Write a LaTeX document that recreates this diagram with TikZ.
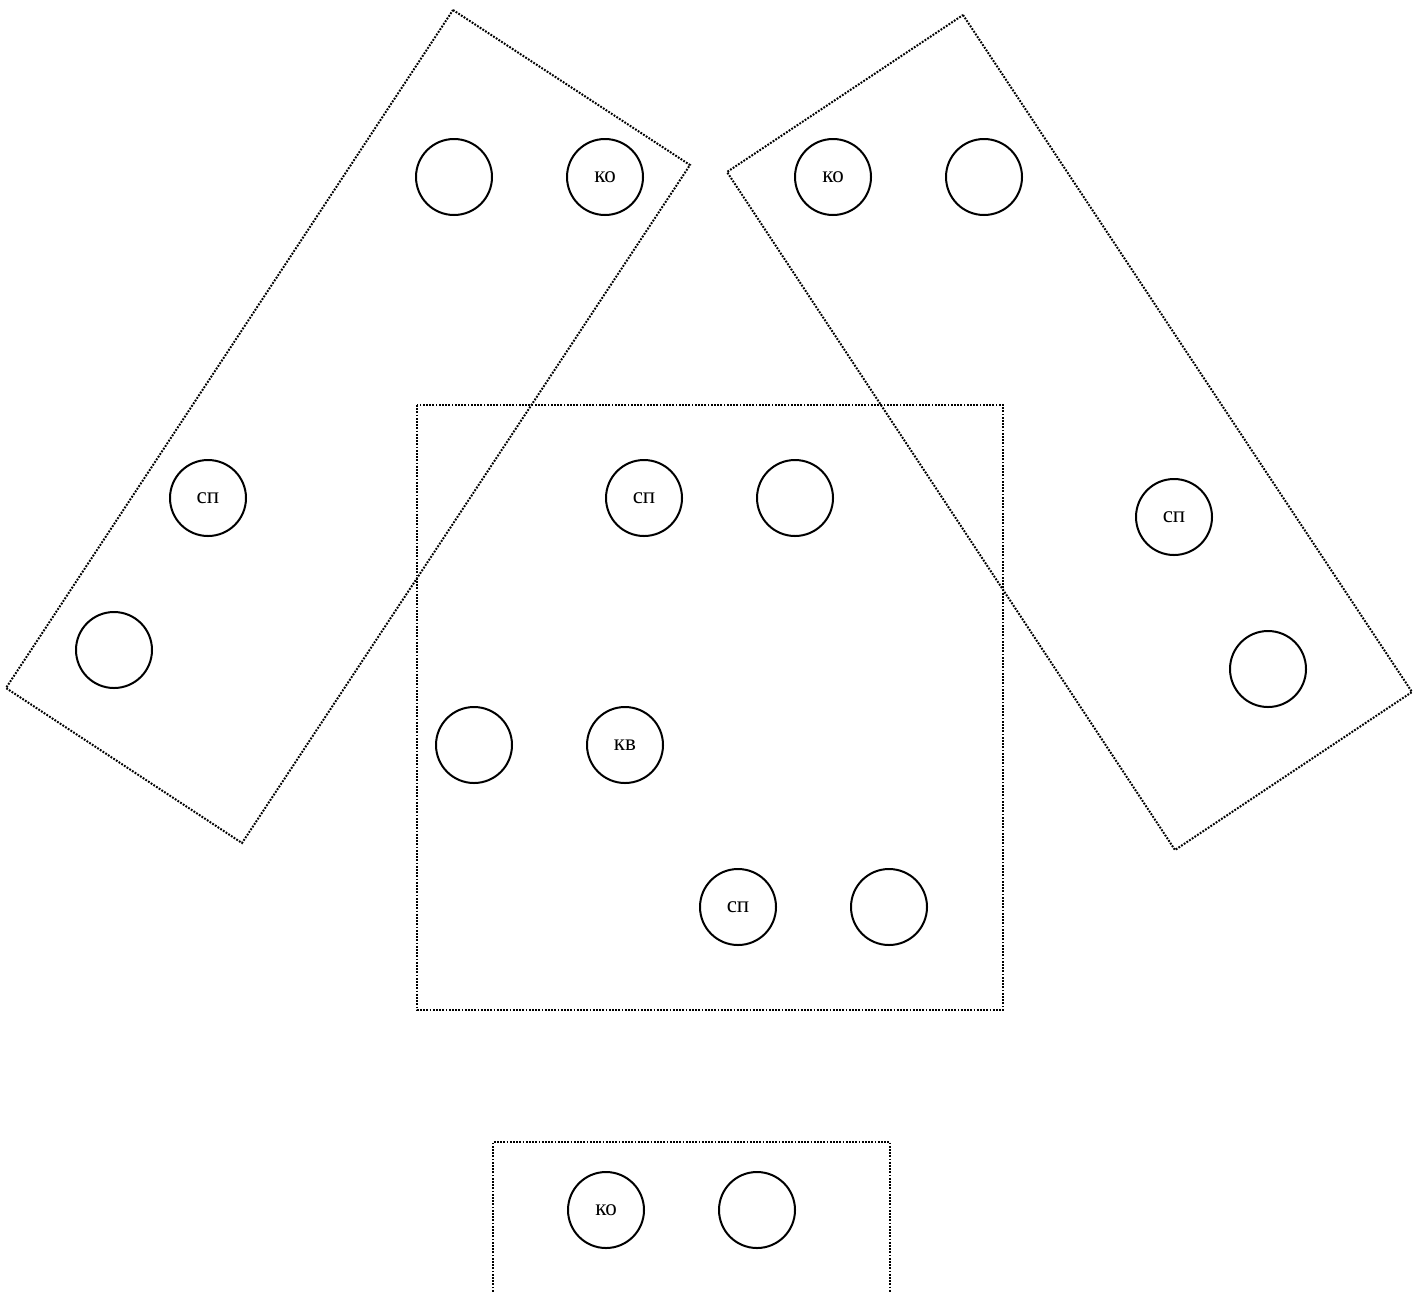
\documentclass[tikz,border=0pt]{standalone}
\usepackage{fontspec}
\setmainfont{Liberation Serif}
\usetikzlibrary{positioning}

\begin{document}
\begin{tikzpicture}[
    x=0.5pt, y=-0.5pt,
    node distance=36.5pt,
    unit/.style={circle, draw, line width=1pt, minimum size=38pt, inner sep=0pt, font=\fontsize{11.5}{11.5}\selectfont},
    group/.style={line width=1pt, dash pattern=on 0.9pt off 0.7pt}
  ]
    \useasboundingbox (0,0) rectangle (1422,1291);

    % groups
    \draw[group] (453,10) -- (690,165) -- (242,843) -- (6,688) -- cycle;
    \draw[group] (963,15) -- (1412,692) -- (1175,850) -- (727,172) -- cycle;
    \draw[group] (417,405) rectangle (1003,1010);
    \draw[group] (493,1330) -- (493,1142) -- (890,1142) -- (890,1330);

    % left group
    \node[unit] (left1) at (454,177) {};
    \node[unit, right=of left1] (leftko) {ко};
    \node[unit] (leftsp) at (208,498) {сп};
    \node[unit] (left2) at (114,650) {};

    % right group
    \node[unit] (rightko) at (833,177) {ко};
    \node[unit, right=of rightko] (right1) {};
    \node[unit] (rightsp) at (1174,517) {сп};
    \node[unit] (right2) at (1268,669) {};

    % middle group
    \node[unit] (midsp) at (644,498) {сп};
    \node[unit, right=of midsp] (mid1) {};
    \node[unit] (mid2) at (474,745) {};
    \node[unit, right=of mid2] (midkv) {кв};
    \node[unit] (lowsp) at (738,907) {сп};
    \node[unit, right=of lowsp] (low1) {};

    % bottom group
    \node[unit] (botko) at (606,1210) {ко};
    \node[unit, right=of botko] (bot1) {};
\end{tikzpicture}
\end{document}
